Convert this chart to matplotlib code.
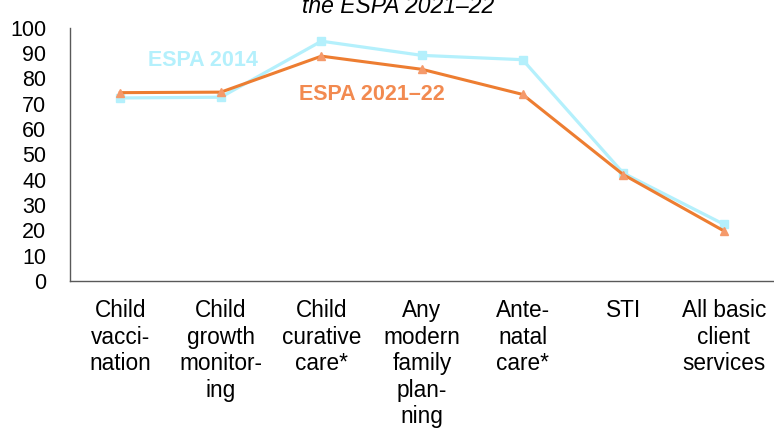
import matplotlib
matplotlib.use("Agg")
import matplotlib.pyplot as plt

categories = ["Child\nvacci-\nnation", "Child\ngrowth\nmonitor-\ning", "Child\ncurative\ncare*",
              "Any\nmodern\nfamily\nplan-\nning", "Ante-\nnatal\ncare*", "STI", "All basic\nclient\nservices"]
espa_2014 = [72.2, 72.5, 94.6, 89.0, 87.3, 42.6, 22.4]
espa_2021 = [74.3, 74.5, 88.7, 83.5, 73.6, 42.0, 19.8]
yticks = [0, 10, 20, 30, 40, 50, 60, 70, 80, 90, 100]

plt.rcParams['font.family'] = ['Liberation Sans', 'DejaVu Sans']

cyan = "#B4F0FC"
orange = "#ED7D31"
orange_marker = "#F59A6B"
orange_text = "#F28A50"

fig = plt.figure(figsize=(7.74, 4.29), dpi=100)
ax = fig.add_axes([70/774, 1-281/429, 1-70/774, (281-27.5)/429])

x = list(range(len(categories)))
ax.plot(x, espa_2014, color=cyan, lw=2.3, marker='s', ms=6, mfc=cyan, mec=cyan, zorder=3)
ax.plot(x, espa_2021, color=orange, lw=2.2, marker='^', ms=6, mfc=orange_marker, mec=orange_marker, zorder=4)

ax.set_xlim(-0.5, len(categories)-0.5)
ax.set_ylim(0, 100)
ax.set_yticks(yticks)
ax.set_yticklabels([str(v) for v in yticks], fontsize=15.5)
ax.set_xticks(x)
ax.set_xticklabels(categories, fontsize=16.3, linespacing=1.2, va='top')
ax.tick_params(axis='y', length=0, pad=17)
ax.tick_params(axis='x', length=0, pad=13)
for s in ['top', 'right']:
    ax.spines[s].set_visible(False)
for s in ['left', 'bottom']:
    ax.spines[s].set_color('#595959')
    ax.spines[s].set_linewidth(1.0)

ax.text(0.82, 87, "ESPA 2014", color=cyan, fontsize=15.5, fontweight='bold', ha='center', va='center')
ax.text(2.5, 73.5, "ESPA 2021\u201322", color=orange_text, fontsize=15.5, fontweight='bold', ha='center', va='center')

fig.text(398/774, 1-13/429, "the ESPA 2021\u201322", fontsize=16.5, style='italic', ha='center', va='baseline')

fig.savefig("out.png", dpi=100)
